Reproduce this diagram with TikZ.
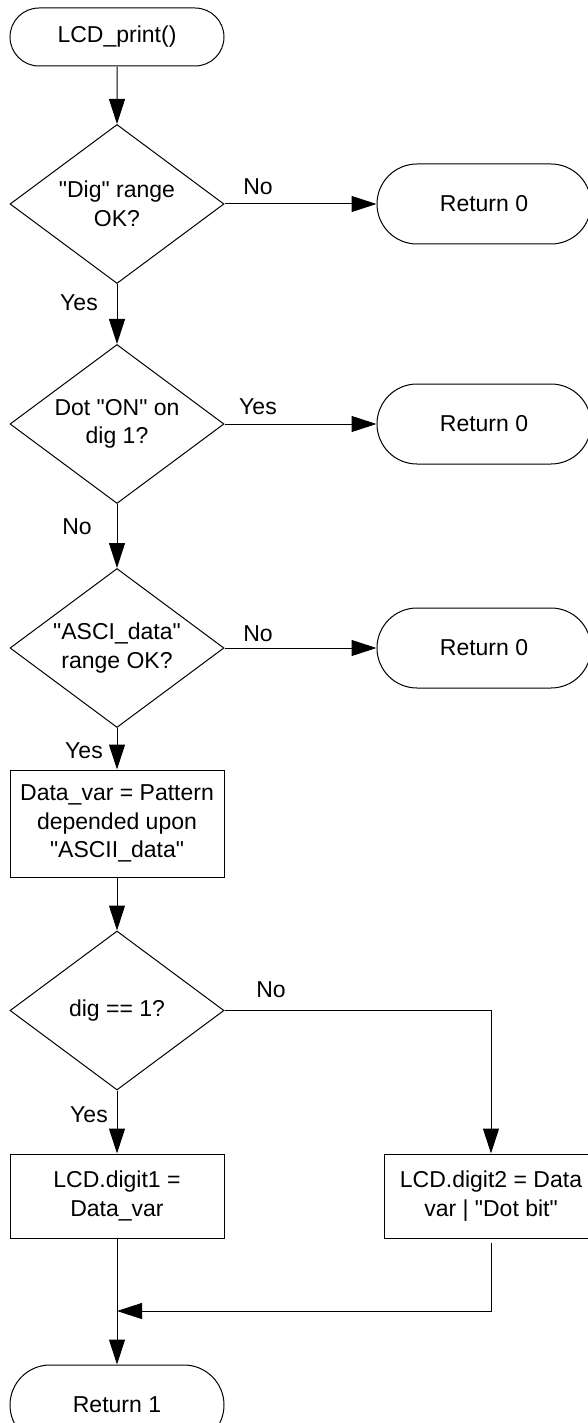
\documentclass[tikz,border=0pt]{standalone}
\usepackage{fontspec}
% plain family without the TeX ligature mapping, so " stays a straight quote
\newfontfamily\flowfont{Liberation Sans}
\usetikzlibrary{shapes.geometric,shapes.misc,arrows.meta}
\begin{document}
\begin{tikzpicture}[x=1pt,y=-1pt,
  every node/.style={font=\flowfont\fontsize{23}{28.5}\selectfont},
  flowline/.style={draw=black,line width=1pt},
  arr/.style={flowline,-{Triangle[length=25pt,width=16pt]}},
  term/.style={rounded rectangle,draw,line width=1pt,minimum width=214pt,minimum height=80pt,inner sep=0pt},
  decision/.style={diamond,draw,line width=1pt,minimum width=214pt,minimum height=159pt,aspect=1.346,inner sep=0pt,align=center},
  proc/.style={rectangle,draw,line width=1pt,minimum width=214pt,inner sep=0pt,align=center},
  lbl/.style={inner sep=0pt}]
\useasboundingbox (0,0) rectangle (588,1423);
\fill[white] (0,0) rectangle (588,1423);
\clip (0,0) rectangle (588,1423);

% main column
\node[term,minimum height=58pt] (start) at (117,37) {LCD\_print()};
\node[decision] (d1) at (117,204) {"Dig" range\\OK?};
\node[term] (r01) at (484,204) {Return 0};
\node[decision] (d2) at (117,424) {Dot "ON" on\\dig 1?};
\node[term] (r02) at (484,424) {Return 0};
\node[decision] (d3) at (117,648) {"ASCI\_data"\\range OK?};
\node[term] (r03) at (484,648) {Return 0};
\node[proc,minimum height=107pt] (data) at (117,823.5) {Data\_var = Pattern\\depended upon\\"ASCII\_data"};
\node[decision] (d4) at (117,1010.5) {dig == 1?};
\node[proc,minimum height=84pt] (dg1) at (117,1196) {LCD.digit1 =\\Data\_var};
\node[proc,minimum height=84pt] (dg2) at (491,1196) {LCD.digit2 = Data\\var | "Dot bit"};
\node[term] (ret1) at (117,1405) {Return 1};
\coordinate (merge) at (117,1311);

% connectors
\draw[arr] (start) -- (d1);
\draw[arr] (d1) -- (r01);
\draw[arr] (d1) -- (d2);
\draw[arr] (d2) -- (r02);
\draw[arr] (d2) -- (d3);
\draw[arr] (d3) -- (r03);
\draw[arr] (d3) -- (data);
\draw[arr] (data) -- (d4);
\draw[arr] (d4) -- (dg1);
\draw[arr] (d4.east) -| (dg2.north);
\draw[arr] (dg1.south) -- (ret1.north);
\draw[arr,shorten <=4pt] (dg2.south) |- (merge);

% branch labels
\node[lbl] (l1n) at (258,187) {No};
\node[lbl] (l1y) at (79,303) {Yes};
\node[lbl] (l2y) at (258,407) {Yes};
\node[lbl] (l2n) at (77,527) {No};
\node[lbl] (l3n) at (258,634) {No};
\node[lbl] (l3y) at (84,751) {Yes};
\node[lbl] (l4n) at (271,990) {No};
\node[lbl] (l4y) at (89,1115) {Yes};
\end{tikzpicture}
\end{document}
